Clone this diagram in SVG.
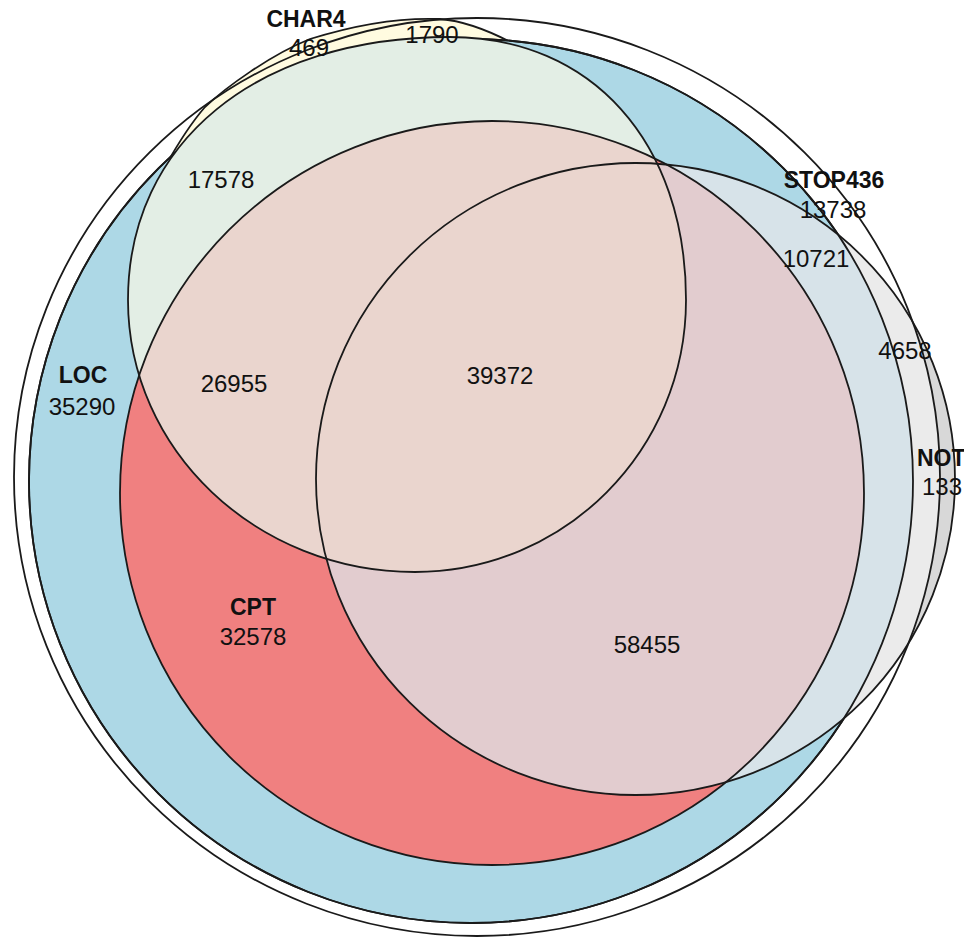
<svg xmlns="http://www.w3.org/2000/svg" width="964" height="939" viewBox="0 0 964 939">
  <style>
    .ln { fill: none; stroke: #1a1a1a; stroke-width: 1.8; }
    .num { font-family: "Liberation Sans", Arial, sans-serif; font-size: 24px; fill: #111; text-anchor: middle; }
    .lab { font-family: "Liberation Sans", Arial, sans-serif; font-size: 23px; font-weight: bold; fill: #111; text-anchor: middle; }
  </style>
  <defs>
    <ellipse id="shO1" cx="477" cy="477" rx="463" ry="459"/>
    <circle id="shO2" cx="471" cy="481" r="442"/>
    <ellipse id="shI" cx="635.5" cy="479" rx="319.5" ry="316"/>
    <circle id="shR" cx="492" cy="493" r="372"/>
    <path id="shG" d="M450,37 C591.6,37 686,142.2 686,300 C686,450.2 564.7,572 415,572 C256.5,572 128,450.2 128,300 C128,142.2 256.8,37 450,37 Z"/>
    <path id="shY" d="M166,165 C180,140 192,122 205,107 C225,88 270,55 310,39 C345,28 390,17 440,19 C465,21 492,32 516,45 Z"/>
    <clipPath id="cO1"><use href="#shO1"/></clipPath>
    <clipPath id="cO2"><use href="#shO2"/></clipPath>
    <clipPath id="cR"><use href="#shR"/></clipPath>
  </defs>

  <g id="set-STOP436">
    <use href="#shO1" fill="#ffffff"/>
  </g>

  <g id="set-CHAR4-outer">
    <use href="#shY" class="ln" style="fill:#fffbe0"/>
  </g>

  <g id="set-LOC">
    <use href="#shO2" class="ln" style="fill:#add8e6"/>
  </g>

  <g id="set-NOT">
    <use href="#shI" fill="#d8d8d8"/>
    <use href="#shI" fill="#ebebeb" clip-path="url(#cO1)"/>
    <use href="#shI" fill="#d7e3e9" clip-path="url(#cO2)"/>
    <use href="#shO2" class="ln"/>
  </g>

  <g id="set-CPT">
    <use href="#shR" fill="#f08080"/>
  </g>

  <g id="set-CHAR4">
    <use href="#shG" fill="#e3eee5"/>
  </g>

  <g id="overlaps">
    <use href="#shI" fill="#e2cccf" clip-path="url(#cR)"/>
    <g clip-path="url(#cR)">
      <use href="#shG" fill="#ead5ce"/>
    </g>
  </g>

  <g id="outlines">
    <use href="#shR" class="ln"/>
    <use href="#shG" class="ln"/>
    <use href="#shI" class="ln"/>
    <use href="#shO1" class="ln"/>
  </g>

  <g id="labels">
    <text class="lab" x="306" y="27">CHAR4</text>
    <text class="num" x="309" y="56">469</text>
    <text class="num" x="432" y="43">1790</text>
    <text class="num" x="221" y="188">17578</text>
    <text class="lab" x="834" y="188">STOP436</text>
    <text class="num" x="833" y="218">13738</text>
    <text class="num" x="816" y="267">10721</text>
    <text class="num" x="905" y="359">4658</text>
    <text class="lab" x="83" y="383">LOC</text>
    <text class="num" x="82" y="415">35290</text>
    <text class="num" x="234" y="392">26955</text>
    <text class="num" x="500" y="384">39372</text>
    <text class="lab" x="253" y="615">CPT</text>
    <text class="num" x="253" y="645">32578</text>
    <text class="num" x="647" y="653">58455</text>
    <text class="lab" x="917" y="466" style="text-anchor:start">NOT</text>
    <text class="num" x="922" y="495" style="text-anchor:start">133</text>
  </g>
</svg>
